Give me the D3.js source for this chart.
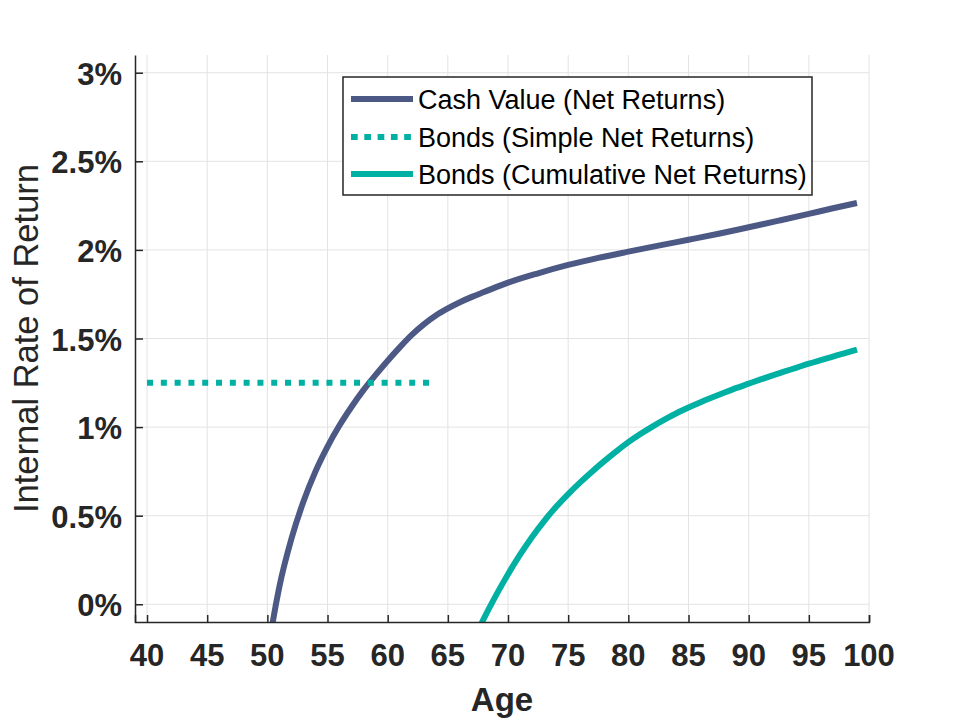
<!DOCTYPE html>
<html lang="en">
<head>
    <meta charset="UTF-8">
    <title>Internal Rate of Return by Age</title>
    <script src="https://d3js.org/d3.v7.min.js"></script>
    <style>
        body { margin: 0; background: #fff; }
        text { font-family: "Liberation Sans", Arial, sans-serif; }
        .grid line { stroke: #e3e3e3; stroke-width: 1; }
        .tick-label { font-size: 31px; font-weight: bold; fill: #262626; }
        .legend-label { font-size: 27px; fill: #000; }
    </style>
</head>
<body>
<div id="chart"></div>
<script>
    // ages and IRR (%)
    const cashAges = [50, 50.5, 51, 52, 53, 54, 55, 56, 57, 58, 59, 60, 61, 62, 63, 64, 65, 66, 67, 68,
                      70, 72.5, 75, 77.5, 80, 82.5, 85, 87.5, 90, 92.5, 95, 97, 99];
    const cashIrr = [-0.30, -0.08, 0.10, 0.37, 0.58, 0.75, 0.89, 1.01, 1.115, 1.21, 1.295, 1.375, 1.45, 1.52, 1.58, 1.63, 1.67, 1.705, 1.735, 1.762,
                     1.815, 1.868, 1.915, 1.955, 1.99, 2.024, 2.057, 2.091, 2.128, 2.165, 2.203, 2.235, 2.265];

    const simpleAges = [40, 64];
    const simpleIrr = [1.25, 1.25];

    const cumAges = [67.5, 68, 69, 70, 71, 72, 73, 74, 75, 76, 77, 78, 79, 80, 81, 82, 83, 84, 85,
                     86, 87, 88, 89, 90, 91, 92, 93, 94, 95, 96, 97, 98, 99];
    const cumIrr = [-0.15, -0.08, 0.05, 0.17, 0.28, 0.38, 0.47, 0.55, 0.622, 0.688, 0.75, 0.808, 0.863, 0.915, 0.961, 1.003, 1.042, 1.078, 1.11,
                    1.14, 1.168, 1.195, 1.221, 1.245, 1.269, 1.292, 1.314, 1.336, 1.358, 1.378, 1.398, 1.418, 1.437];

    const xTicks = [40, 45, 50, 55, 60, 65, 70, 75, 80, 85, 90, 95, 100];
    const yTicks = [0, 0.5, 1, 1.5, 2, 2.5, 3];

    const seriesNames = ["Cash Value (Net Returns)", "Bonds (Simple Net Returns)", "Bonds (Cumulative Net Returns)"];
    const seriesColors = ["#4d5985", "#00b0a3", "#00b0a3"];
    const seriesDash = [null, "6,7.8", null];

    var width = 960, height = 720;
    var margin = {left: 135, right: 91, top: 55, bottom: 98};

    var svg = d3.select("#chart").append("svg")
                .attr("width", width)
                .attr("height", height);

    var x = d3.scaleLinear().domain([39, 100]).range([margin.left, width - margin.right]);
    var y = d3.scaleLinear().domain([-0.1, 3.1]).range([height - margin.bottom, margin.top]);

    // grid
    var grid = svg.append("g").attr("class", "grid");
    grid.selectAll(".vx").data(xTicks).enter().append("line")
        .attr("x1", d => x(d)).attr("x2", d => x(d))
        .attr("y1", y.range()[0]).attr("y2", y.range()[1]);
    grid.selectAll(".hy").data(yTicks).enter().append("line")
        .attr("x1", x.range()[0]).attr("x2", x.range()[1])
        .attr("y1", d => y(d)).attr("y2", d => y(d));

    // clip the curves to the plot box
    svg.append("clipPath").attr("id", "plotClip")
       .append("rect")
       .attr("x", x.range()[0]).attr("y", y.range()[1])
       .attr("width", x.range()[1] - x.range()[0])
       .attr("height", y.range()[0] - y.range()[1]);

    var line = d3.line()
                 .x(d => x(d[0]))
                 .y(d => y(d[1]))
                 .curve(d3.curveMonotoneX);

    var series = [
        d3.zip(cashAges, cashIrr),
        d3.zip(simpleAges, simpleIrr),
        d3.zip(cumAges, cumIrr)
    ];

    var plot = svg.append("g").attr("clip-path", "url(#plotClip)");
    series.forEach((s, i) => {
        plot.append("path")
            .datum(s)
            .attr("d", line)
            .attr("fill", "none")
            .attr("stroke", seriesColors[i])
            .attr("stroke-width", 6)
            .attr("stroke-dasharray", seriesDash[i]);
    });

    // axes (ticks point inward)
    var xAxis = svg.append("g")
        .attr("transform", `translate(0,${y.range()[0]})`)
        .call(d3.axisBottom(x).tickValues(xTicks).tickSizeInner(-7).tickSizeOuter(-7).tickFormat(""));
    var yAxis = svg.append("g")
        .attr("transform", `translate(${x.range()[0]},0)`)
        .call(d3.axisLeft(y).tickValues(yTicks).tickSizeInner(-8).tickSizeOuter(0).tickFormat(""));
    [xAxis, yAxis].forEach(a => {
        a.select(".domain").attr("stroke", "#262626").attr("stroke-width", 1.5);
        a.selectAll(".tick line").attr("stroke", "#262626").attr("stroke-width", 1.5);
    });

    // tick labels
    svg.append("g").selectAll("text").data(xTicks).enter().append("text")
       .attr("class", "tick-label")
       .attr("x", d => x(d))
       .attr("y", y.range()[0] + 44)
       .attr("text-anchor", "middle")
       .text(d => d);
    svg.append("g").selectAll("text").data(yTicks).enter().append("text")
       .attr("class", "tick-label")
       .attr("x", 122)
       .attr("y", d => y(d) + 12)
       .attr("text-anchor", "end")
       .text(d => d + "%");

    // axis titles
    svg.append("text")
       .attr("x", (x.range()[0] + x.range()[1]) / 2)
       .attr("y", 711)
       .attr("text-anchor", "middle")
       .style("font-size", "33px")
       .style("font-weight", "bold")
       .style("fill", "#262626")
       .text("Age");
    svg.append("text")
       .attr("transform", `translate(38,${(y.range()[0] + y.range()[1]) / 2}) rotate(-90)`)
       .attr("text-anchor", "middle")
       .style("font-size", "34.5px")
       .style("fill", "#262626")
       .text("Internal Rate of Return");

    // legend
    var legend = svg.append("g");
    legend.append("rect")
          .attr("x", 343).attr("y", 77)
          .attr("width", 469).attr("height", 118)
          .attr("fill", "#fff")
          .attr("stroke", "#262626")
          .attr("stroke-width", 1.5);
    var rowY = [99, 137, 174];
    seriesNames.forEach((name, i) => {
        legend.append("line")
              .attr("x1", 351).attr("x2", 413)
              .attr("y1", rowY[i]).attr("y2", rowY[i])
              .attr("stroke", seriesColors[i])
              .attr("stroke-width", 6)
              .attr("stroke-dasharray", i === 1 ? "6.7,6.6" : null);
        legend.append("text")
              .attr("class", "legend-label")
              .attr("x", 418)
              .attr("y", rowY[i] + 10)
              .text(name);
    });
</script>
</body>
</html>
